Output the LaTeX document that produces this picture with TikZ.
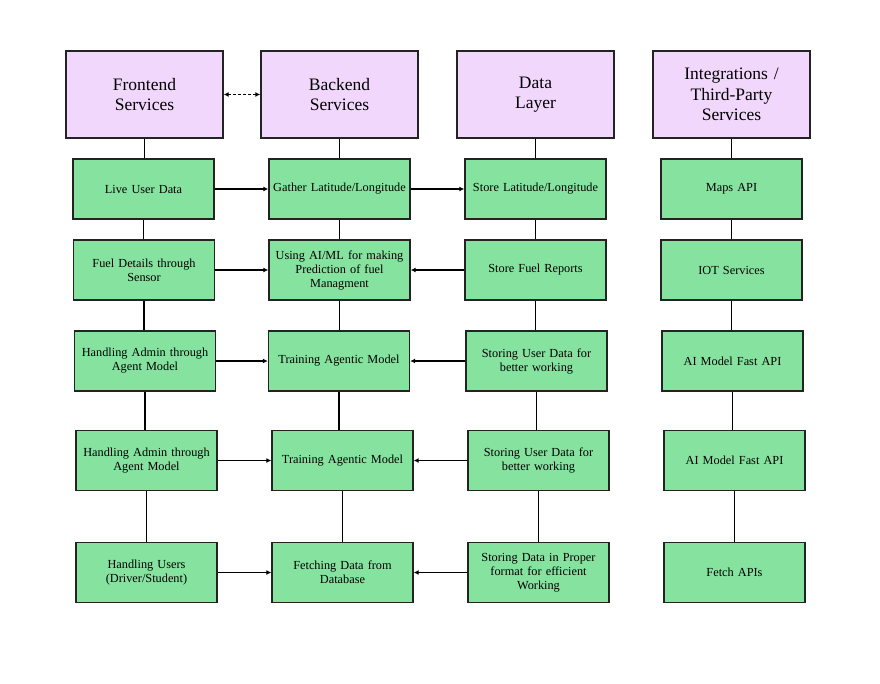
\documentclass[tikz,border=0pt]{standalone}
\usepackage{fontspec}
\setmainfont{Liberation Serif}
\usetikzlibrary{arrows.meta}
\definecolor{hdrfill}{RGB}{242,215,252}
\definecolor{boxfill}{RGB}{134,227,159}
\definecolor{edge}{RGB}{35,35,35}
\begin{document}
\begin{tikzpicture}[x=1pt,y=-1pt,
  hdr/.style={draw=edge,line width=1.4pt,fill=hdrfill,minimum width=157pt,minimum height=87pt,
    text width=150pt,align=center,font=\fontsize{17.5}{20.5}\selectfont,inner sep=0pt},
  bx/.style={draw=edge,line width=1.4pt,fill=boxfill,minimum width=141pt,minimum height=60pt,
    text width=141pt,align=center,font=\fontsize{12.3}{14}\selectfont,inner sep=0pt},
  link/.style={draw=black,line width=1.4pt},
  arr/.style={draw=black,line width=1.4pt,-{Latex[length=5pt,width=5pt]}}]
\useasboundingbox (0,0) rectangle (880,683);
% headers
\node[hdr] (h1) at (144.5,94.5) {Frontend\\Services};
\node[hdr] (h2) at (339.5,94.5) {Backend\\Services};
\node[hdr] (h3) at (535.5,94.5) {Data\\Layer};
\node[hdr] (h4) at (731.5,94.5) {Integrations /\\Third-Party\\Services};
% row 1
\node[bx] (a1) at (143.5,189) {Live User Data};
\node[bx] (b1) at (339.5,189) {Gather Latitude/Longitude};
\node[bx] (c1) at (535.5,189) {Store Latitude/Longitude};
\node[bx] (d1) at (731.5,189) {Maps API};
% row 2
\node[bx] (a2) at (144,270) {Fuel Details through\\Sensor};
\node[bx] (b2) at (339.5,270) {Using AI/ML for making\\Prediction of fuel\\Managment};
\node[bx] (c2) at (535.5,270) {Store Fuel Reports};
\node[bx] (d2) at (731.5,270) {IOT Services};
% row 3
\node[bx] (a3) at (145,361) {Handling Admin through\\Agent Model};
\node[bx] (b3) at (339,361) {Training Agentic Model};
\node[bx] (c3) at (536.5,361) {Storing User Data for\\better working};
\node[bx] (d3) at (732.5,361) {AI Model Fast API};
% row 4
\node[bx] (a4) at (146.5,460.5) {Handling Admin through\\Agent Model};
\node[bx] (b4) at (342.5,460.5) {Training Agentic Model};
\node[bx] (c4) at (538.5,460.5) {Storing User Data for\\better working};
\node[bx] (d4) at (734.5,460.5) {AI Model Fast API};
% row 5
\node[bx] (a5) at (146.5,572.5) {Handling Users\\(Driver/Student)};
\node[bx] (b5) at (342.5,572.5) {Fetching Data from\\Database};
\node[bx] (c5) at (538.5,572.5) {Storing Data in Proper\\format for efficient\\Working};
\node[bx] (d5) at (734.5,572.5) {Fetch APIs};
% vertical links
\foreach \col in {a,b,c,d}{
  \path[link] (\col1.south) -- (\col1.south |- \col2.north);
  \path[link] (\col2.south) -- (\col2.south |- \col3.north);
  \path[link] (\col3.south) -- (\col3.south |- \col4.north);
  \path[link] (\col4.south) -- (\col4.south |- \col5.north);
}
\path[link] (h1.south) -- (h1.south |- a1.north);
\path[link] (h2.south) -- (h2.south |- b1.north);
\path[link] (h3.south) -- (h3.south |- c1.north);
\path[link] (h4.south) -- (h4.south |- d1.north);
% horizontal arrows
\draw[black,line width=1.4pt,dash pattern=on 3pt off 2pt,{Latex[length=5pt,width=5pt]}-{Latex[length=5pt,width=5pt]}] (h1.east) -- (h2.west);
\draw[arr] (a1) -- (b1);
\draw[arr] (b1) -- (c1);
\draw[arr] (a2) -- (b2);
\draw[arr] (c2) -- (b2);
\draw[arr] (a3) -- (b3);
\draw[arr] (c3) -- (b3);
\draw[arr] (a4) -- (b4);
\draw[arr] (c4) -- (b4);
\draw[arr] (a5) -- (b5);
\draw[arr] (c5) -- (b5);
\end{tikzpicture}
\end{document}
